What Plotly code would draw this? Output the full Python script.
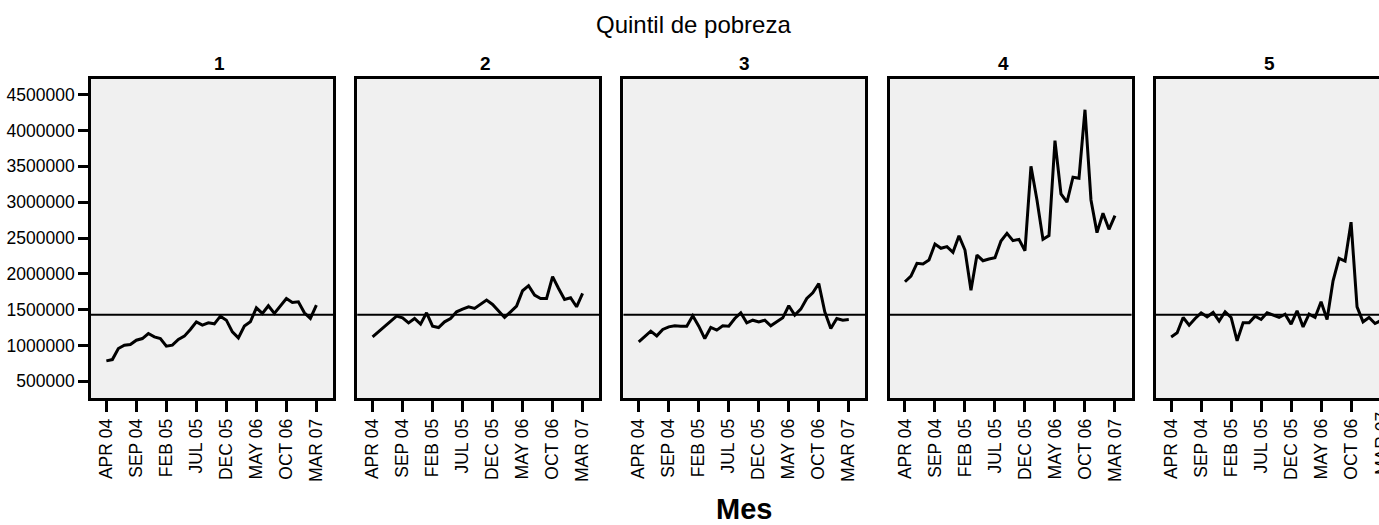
import plotly.graph_objects as go
from plotly.subplots import make_subplots

# Month labels (x categories)
MONTHS = [
    "APR 04", "MAY 04", "JUN 04", "JUL 04", "AUG 04", "SEP 04", "OCT 04", "NOV 04", "DEC 04",
    "JAN 05", "FEB 05", "MAR 05", "APR 05", "MAY 05", "JUN 05", "JUL 05", "AUG 05", "SEP 05",
    "OCT 05", "NOV 05", "DEC 05", "JAN 06", "FEB 06", "MAR 06", "APR 06", "MAY 06", "JUN 06",
    "JUL 06", "AUG 06", "SEP 06", "OCT 06", "NOV 06", "DEC 06", "JAN 07", "FEB 07", "MAR 07",
]
TICK_MONTHS = ["APR 04", "SEP 04", "FEB 05", "JUL 05", "DEC 05", "MAY 06", "OCT 06", "MAR 07"]

QUINTILES = ["1", "2", "3", "4", "5"]

# values, in millions
Q1 = [0.785, 0.803, 0.957, 1.004, 1.013, 1.074, 1.097, 1.167, 1.120, 1.097, 0.990, 1.004,
      1.083, 1.130, 1.223, 1.330, 1.284, 1.316, 1.302, 1.409, 1.353, 1.190, 1.106, 1.270,
      1.330, 1.526, 1.447, 1.554, 1.447, 1.554, 1.656, 1.601, 1.610, 1.456, 1.377, 1.563]
Q2 = [1.120, 1.190, 1.270, 1.330, 1.409, 1.386, 1.316, 1.377, 1.298, 1.456, 1.270, 1.251,
      1.330, 1.377, 1.470, 1.507, 1.540, 1.517, 1.573, 1.633, 1.573, 1.484, 1.391, 1.470,
      1.549, 1.764, 1.834, 1.703, 1.656, 1.656, 1.960, 1.796, 1.643, 1.666, 1.540, 1.726]
Q3 = [1.051, 1.120, 1.200, 1.134, 1.223, 1.260, 1.274, 1.270, 1.270, 1.414, 1.270, 1.097,
      1.251, 1.214, 1.274, 1.270, 1.377, 1.456, 1.316, 1.353, 1.330, 1.353, 1.274, 1.330,
      1.386, 1.554, 1.423, 1.507, 1.656, 1.736, 1.865, 1.470, 1.237, 1.377, 1.353, 1.363]
Q4 = [1.889, 1.969, 2.146, 2.137, 2.192, 2.416, 2.356, 2.379, 2.300, 2.530, 2.332, 1.770,
      2.262, 2.183, 2.206, 2.225, 2.458, 2.565, 2.463, 2.481, 2.323, 3.500, 3.031, 2.481,
      2.533, 3.860, 3.115, 2.999, 3.348, 3.334, 4.290, 3.031, 2.575, 2.845, 2.621, 2.812]
Q5 = [1.120, 1.176, 1.391, 1.284, 1.377, 1.456, 1.400, 1.461, 1.340, 1.470, 1.391, 1.065,
      1.316, 1.316, 1.409, 1.363, 1.456, 1.423, 1.391, 1.437, 1.298, 1.484, 1.260, 1.437,
      1.391, 1.610, 1.363, 1.903, 2.216, 2.178, 2.720, 1.540, 1.330, 1.391, 1.307, 1.350]
SERIES = [Q1, Q2, Q3, Q4, Q5]

REF_LINE = 1430000
Y_TICKS = [500000, 1000000, 1500000, 2000000, 2500000, 3000000, 3500000, 4000000, 4500000]

FONT = "Liberation Sans, Arial, sans-serif"
BG = "#F0F0F0"

# geometry in pixels (figure 1379 x 525)
W, H = 1379, 525
ML, MT, MB = 91, 79, 127
PW = W - ML
PH = H - MT - MB
STEP, PANEL = 266.2, 242


def py(ypx):
    """pixel row -> paper y"""
    return (MT + PH - ypx) / PH


def px(xpx):
    """pixel column -> paper x"""
    return (xpx - ML) / PW


fig = make_subplots(rows=1, cols=5, shared_yaxes=True)

for i, vals in enumerate(SERIES):
    fig.add_trace(go.Scatter(
        x=MONTHS, y=[v * 1e6 for v in vals], mode="lines",
        line=dict(color="black", width=3), showlegend=False, hoverinfo="skip",
    ), row=1, col=i + 1)

for i in range(5):
    n = "" if i == 0 else str(i + 1)
    start = STEP * i / PW
    end = 1.0 if i == 4 else start + PANEL / PW
    right = 34.66 if i == 4 else 37.77
    fig.layout["xaxis" + n].update(
        domain=[start, end], type="category", range=[-2.56, right],
        tickmode="array", tickvals=TICK_MONTHS, ticktext=TICK_MONTHS,
        tickangle=-90, ticks="outside", ticklen=11, tickwidth=2.5, tickcolor="black",
        showline=True, linecolor="black", linewidth=2.5, mirror=True,
        showgrid=False, zeroline=False,
        tickfont=dict(family=FONT, size=17.5, color="black"),
    )
    fig.layout["yaxis" + n].update(
        range=[267000, 4719000], showline=True, linecolor="black", linewidth=2.5,
        mirror=(i != 4), showgrid=False, zeroline=False,
    )
    fig.add_shape(type="line", xref=f"x{n} domain", yref=f"y{n}",
                  x0=0, x1=1, y0=REF_LINE, y1=REF_LINE,
                  line=dict(color="black", width=2))
    fig.add_annotation(text=f"<b>{QUINTILES[i]}</b>", xref="paper", yref="paper",
                       x=(STEP * i + PANEL / 2) / PW, y=py(63.7),
                       showarrow=False, yanchor="middle",
                       font=dict(family=FONT, size=19, color="black"))

fig.update_yaxes(
    tickmode="array", tickvals=Y_TICKS, ticktext=[str(v) for v in Y_TICKS],
    ticks="outside", ticklen=10, tickwidth=2.5, tickcolor="black",
    tickfont=dict(family=FONT, size=17.5, color="black"), row=1, col=1,
)

# partial last tick label of the clipped fifth panel
fig.add_annotation(text="MAR 07", xref="paper", yref="paper",
                   x=px(1381.6), y=py(410),
                   textangle=-90, showarrow=False, xanchor="center", yanchor="top",
                   font=dict(family=FONT, size=17.5, color="black"))

fig.add_annotation(text="Quintil de pobreza", xref="paper", yref="paper",
                   x=px(693), y=py(24), showarrow=False,
                   yanchor="middle", font=dict(family=FONT, size=24, color="black"))
fig.add_annotation(text="<b>Mes</b>", xref="paper", yref="paper",
                   x=px(744), y=py(509), showarrow=False,
                   yanchor="middle", font=dict(family=FONT, size=29, color="black"))

fig.update_layout(
    width=W, height=H, autosize=False,
    margin=dict(l=ML, r=0, t=MT, b=MB),
    paper_bgcolor="white", plot_bgcolor=BG,
    font=dict(family=FONT, color="black"),
)

fig.write_html("out.html", config={"displayModeBar": False},
               post_script="document.body.style.margin='0px';")
